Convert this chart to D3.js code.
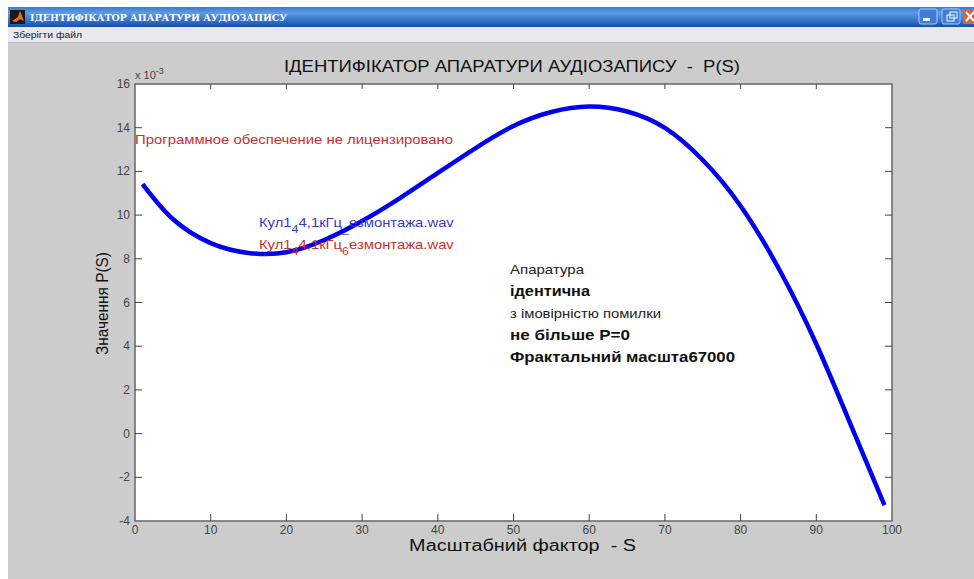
<!DOCTYPE html>
<html>
  <head>
    <meta charset="utf-8" />
    <title>Ідентифікатор апаратури аудіозапису</title>
    <script src="https://cdn.jsdelivr.net/npm/d3@7"></script>
    <style type="text/css">
      html, body { margin: 0; padding: 0; background: #fff; overflow: hidden; }
      svg { display: block; font-family: "Liberation Sans", Arial, sans-serif; }
      .tick-label { font-size: 12px; fill: #444; }
    </style>
  </head>
  <body>
    <svg id="screen" width="974" height="579" viewBox="0 0 974 579"></svg>

    <script type="text/javascript">
    // S values and P(S) (P in units of 10^-3)
    var scaleS = [1, 5, 10, 15, 20, 25, 30, 35, 40, 45, 50, 55, 60, 65, 70, 75, 80, 85, 90, 95, 99];
    var valueP = [11.42, 9.82, 8.72, 8.27, 8.3, 8.86, 9.73, 10.78, 11.93, 13.07, 14.08, 14.72, 14.97, 14.74, 13.99, 12.52, 10.42, 7.58, 4.1, 0.03, -3.27];

    var xTicks = [0, 10, 20, 30, 40, 50, 60, 70, 80, 90, 100];
    var yTicks = [-4, -2, 0, 2, 4, 6, 8, 10, 12, 14, 16];

    var windowTitle = 'ІДЕНТИФІКАТОР АПАРАТУРИ АУДІОЗАПИСУ';
    var menuLabel = 'Зберігти файл';
    var chartTitle = 'ІДЕНТИФІКАТОР АПАРАТУРИ АУДІОЗАПИСУ  -  P(S)';
    var xLabel = 'Масштабний фактор  - S';
    var yLabel = 'Значення P(S)';

    var svg = d3.select('#screen');
    var box = { left: 135, right: 892, top: 84, bottom: 521 };

    var x = d3.scaleLinear().domain([0, 100]).range([box.left, box.right]);
    var y = d3.scaleLinear().domain([-4, 16]).range([box.bottom, box.top]);

    // the picture is a stretched screenshot, so text gets a forced width
    function label(px, py, str, size, width, weight, color) {
      return svg.append('text')
        .attr('x', px).attr('y', py)
        .attr('fill', color)
        .attr('textLength', width)
        .attr('lengthAdjust', 'spacingAndGlyphs')
        .style('font-size', size + 'px')
        .style('font-weight', weight)
        .style('white-space', 'pre')
        .text(str);
    }

    // window chrome
    var defs = svg.append('defs');
    var grad = defs.append('linearGradient').attr('id', 'bar').attr('x1', 0).attr('x2', 0).attr('y1', 0).attr('y2', 1);
    grad.append('stop').attr('offset', 0).attr('stop-color', '#3a7ad0');
    grad.append('stop').attr('offset', 0.3).attr('stop-color', '#5b9be6');
    grad.append('stop').attr('offset', 1).attr('stop-color', '#1450b0');

    svg.append('rect').attr('x', 8).attr('y', 43).attr('width', 966).attr('height', 536).attr('fill', '#cccccc');
    svg.append('rect').attr('x', 8).attr('y', 27).attr('width', 966).attr('height', 15).attr('fill', '#e9e8ee');
    svg.append('rect').attr('x', 8).attr('y', 42).attr('width', 966).attr('height', 1).attr('fill', '#bdbdbd');
    svg.append('rect').attr('x', 8).attr('y', 7).attr('width', 966).attr('height', 20).attr('fill', 'url(#bar)');

    // window icon
    svg.append('rect').attr('x', 10).attr('y', 10).attr('width', 15).attr('height', 14).attr('fill', '#1a1a1a');
    svg.append('path').attr('d', 'M12 21 L18 17 L20 11 L24 21 L20 19 L16 22 Z').attr('fill', '#e8731c');

    label(30, 21, windowTitle, 9.5, 257, 'bold', '#fff').style('font-family', '"DejaVu Serif", serif');
    label(13, 38, menuLabel, 9, 69, 'normal', '#222');

    // window buttons
    svg.append('rect').attr('x', 919).attr('y', 9).attr('width', 18).attr('height', 15).attr('rx', 2).attr('fill', '#3c7ed8').attr('stroke', '#a8c8ee');
    svg.append('rect').attr('x', 923).attr('y', 18).attr('width', 7).attr('height', 3).attr('fill', '#fff');
    svg.append('rect').attr('x', 942).attr('y', 9).attr('width', 18).attr('height', 15).attr('rx', 2).attr('fill', '#3c7ed8').attr('stroke', '#a8c8ee');
    svg.append('rect').attr('x', 947).attr('y', 15).attr('width', 7).attr('height', 6).attr('fill', 'none').attr('stroke', '#fff');
    svg.append('rect').attr('x', 950).attr('y', 12).attr('width', 7).attr('height', 6).attr('fill', 'none').attr('stroke', '#fff');
    svg.append('rect').attr('x', 963).attr('y', 9).attr('width', 11).attr('height', 15).attr('fill', '#d9623a');
    svg.append('path').attr('d', 'M966 12 L974 21 M974 12 L966 21').attr('stroke', '#fff').attr('stroke-width', 2);

    // plot box
    svg.append('rect').attr('x', box.left).attr('y', box.top)
      .attr('width', box.right - box.left).attr('height', box.bottom - box.top)
      .attr('fill', '#fff').attr('stroke', '#666').attr('stroke-width', 1.5);

    // ticks, inside on all four sides like matlab
    var tickLen = 7, topTickLen = 5;
    var ticks = svg.append('g').attr('stroke', '#444').attr('stroke-width', 1);
    xTicks.slice(1, -1).forEach(function(d) {
      ticks.append('line').attr('x1', x(d)).attr('x2', x(d)).attr('y1', box.bottom).attr('y2', box.bottom - tickLen);
      ticks.append('line').attr('x1', x(d)).attr('x2', x(d)).attr('y1', box.top).attr('y2', box.top + topTickLen);
    });
    yTicks.slice(1, -1).forEach(function(d) {
      ticks.append('line').attr('y1', y(d)).attr('y2', y(d)).attr('x1', box.left).attr('x2', box.left + tickLen);
      ticks.append('line').attr('y1', y(d)).attr('y2', y(d)).attr('x1', box.right).attr('x2', box.right - tickLen);
    });

    svg.selectAll('.xl').data(xTicks).enter().append('text')
      .attr('class', 'tick-label')
      .attr('x', function(d) { return x(d); })
      .attr('y', box.bottom + 13)
      .attr('text-anchor', 'middle')
      .text(function(d) { return d; });

    svg.selectAll('.yl').data(yTicks).enter().append('text')
      .attr('class', 'tick-label')
      .attr('x', box.left - 5)
      .attr('y', function(d) { return y(d) + 4; })
      .attr('text-anchor', 'end')
      .text(function(d) { return d; });

    // x 10^-3 multiplier
    var mult = svg.append('text').attr('x', box.left).attr('y', 79).attr('fill', '#444').style('font-size', '11px');
    mult.append('tspan').text('x 10');
    mult.append('tspan').attr('dy', -5).style('font-size', '9px').text('-3');

    // curve
    var line = d3.line()
      .x(function(d) { return x(d[0]); })
      .y(function(d) { return y(d[1]); })
      .curve(d3.curveNatural);

    svg.append('path')
      .datum(d3.zip(scaleS, valueP))
      .attr('fill', 'none')
      .attr('stroke', '#0000ee')
      .attr('stroke-width', 4.5)
      .attr('d', line);

    // titles
    label(284, 72, chartTitle, 16.5, 456, 'normal', '#111');
    label(409, 551, xLabel, 16, 227, 'normal', '#111');
    label(0, 0, yLabel, 16.5, 103, 'normal', '#111').attr('transform', 'translate(108,355) rotate(-90)');

    // annotations
    label(135, 144, 'Программное обеспечение не лицензировано', 13.5, 318, 'normal', '#c83030');

    function fileLabel(color, yPos, sub1, sub2) {
      var t = svg.append('text')
        .attr('transform', 'translate(259,' + yPos + ') scale(1.14,1)')
        .attr('fill', color).style('font-size', '13px');
      t.append('tspan').text('Кул1');
      t.append('tspan').attr('dy', 6).style('font-size', '11px').text(sub1);
      t.append('tspan').attr('dy', -6).text('4,1кГц');
      t.append('tspan').attr('dy', 6).style('font-size', '11px').text(sub2);
      t.append('tspan').attr('dy', -6).text('езмонтажа.wav');
    }
    fileLabel('#3a3ac0', 227, '4', '_');
    fileLabel('#c83030', 249, '4', '6');

    label(510, 274, 'Апаратура', 13.5, 74, 'normal', '#222');
    label(510, 296, 'ідентична', 14, 80, 'bold', '#111');
    label(510, 318, 'з імовірністю помилки', 13, 151, 'normal', '#222');
    label(510, 340, 'не більше Р=0', 14, 120, 'bold', '#111');
    label(510, 362, 'Фрактальний масшта67000', 14, 225, 'bold', '#111');
    </script>
  </body>
</html>
